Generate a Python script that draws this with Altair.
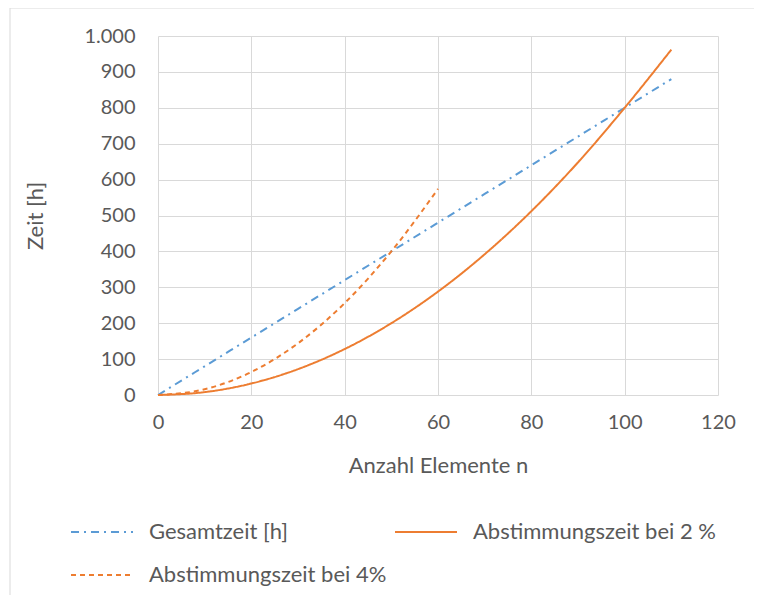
import altair as alt
import pandas as pd

series_names = ["Gesamtzeit [h]", "Abstimmungszeit bei 2 %", "Abstimmungszeit bei 4%"]

n_gesamt = [0, 10, 20, 30, 40, 50, 60, 70, 80, 90, 100, 110]
v_gesamt = [0, 80, 160, 240, 320, 400, 480, 560, 640, 720, 800, 880]

n_2 = [0, 10, 20, 30, 40, 50, 60, 70, 80, 90, 100, 110]
v_2 = [0, 8, 32, 72, 128, 200, 288, 392, 512, 648, 800, 962]

n_4 = [0, 10, 20, 30, 40, 50, 60]
v_4 = [0, 16, 64, 144, 256, 400, 574]

x_ticks = [0, 20, 40, 60, 80, 100, 120]
y_ticks = [0, 100, 200, 300, 400, 500, 600, 700, 800, 900, 1000]

rows = []
for name, ns, vs in zip(series_names, [n_gesamt, n_2, n_4], [v_gesamt, v_2, v_4]):
    for n, v in zip(ns, vs):
        rows.append({"serie": name, "n": n, "zeit": v})
df = pd.DataFrame(rows)

FONT = "Lato"
TXT = "#595959"
GRID = "#D9D9D9"

color_scale = alt.Scale(domain=series_names, range=["#5B9BD5", "#ED7D31", "#ED7D31"])
dash_scale = alt.Scale(domain=series_names, range=[[8, 5, 2, 5], [1, 0], [5, 4]])

legend = alt.Legend(
    title=None,
    orient="none",
    direction="horizontal",
    legendX=-88,
    legendY=464,
    columns=2,
    columnPadding=4,
    rowPadding=-15,
    symbolType="stroke",
    symbolSize=3844,
    symbolStrokeWidth=2,
    labelOffset=15,
    labelFont=FONT,
    labelFontSize=22,
    labelColor=TXT,
    labelLimit=400,
    padding=0,
)

lines = alt.Chart(df).mark_line(interpolate="monotone", strokeWidth=2).encode(
    x=alt.X(
        "n:Q",
        scale=alt.Scale(domain=[0, 120], nice=False),
        axis=alt.Axis(values=x_ticks, title="Anzahl Elemente n", titleX=280, titleY=70,
                      titleBaseline="middle", labelPadding=17, labelFlush=False),
    ),
    y=alt.Y(
        "zeit:Q",
        scale=alt.Scale(domain=[0, 1000], nice=False),
        axis=alt.Axis(values=y_ticks, title="Zeit [h]", titleX=-123, titleY=179.5,
                      titleAngle=-90, titleAlign="center", titleBaseline="middle",
                      labelPadding=23, labelFlush=False,
                      labelExpr="replace(format(datum.value, ','), ',', '.')"),
    ),
    color=alt.Color("serie:N", scale=color_scale, sort=series_names, legend=legend),
    strokeDash=alt.StrokeDash("serie:N", scale=dash_scale, sort=series_names, legend=legend),
)

frame_df = pd.DataFrame({"k": [0]})
border_top = alt.Chart(frame_df).mark_rule(color=GRID, strokeWidth=1).encode(
    x=alt.value(-148), x2=alt.value(596), y=alt.value(-28)
)
border_left = alt.Chart(frame_df).mark_rule(color=GRID, strokeWidth=1).encode(
    x=alt.value(-148), y=alt.value(-28), y2=alt.value(600)
)

chart = alt.layer(border_top, border_left, lines).properties(
    width=560,
    height=359,
    autosize=alt.AutoSizeParams(type="none"),
    padding={"left": 150, "top": 28, "right": 36, "bottom": 200},
).configure_axis(
    grid=True,
    gridColor=GRID,
    gridWidth=1,
    domain=False,
    ticks=False,
    labelFont=FONT,
    labelFontSize=20,
    labelColor=TXT,
    titleFont=FONT,
    titleFontSize=22,
    titleColor=TXT,
    titleFontWeight="normal",
).configure_view(stroke=None)

chart.save("out.html", embed_options={"renderer": "svg", "actions": False})
